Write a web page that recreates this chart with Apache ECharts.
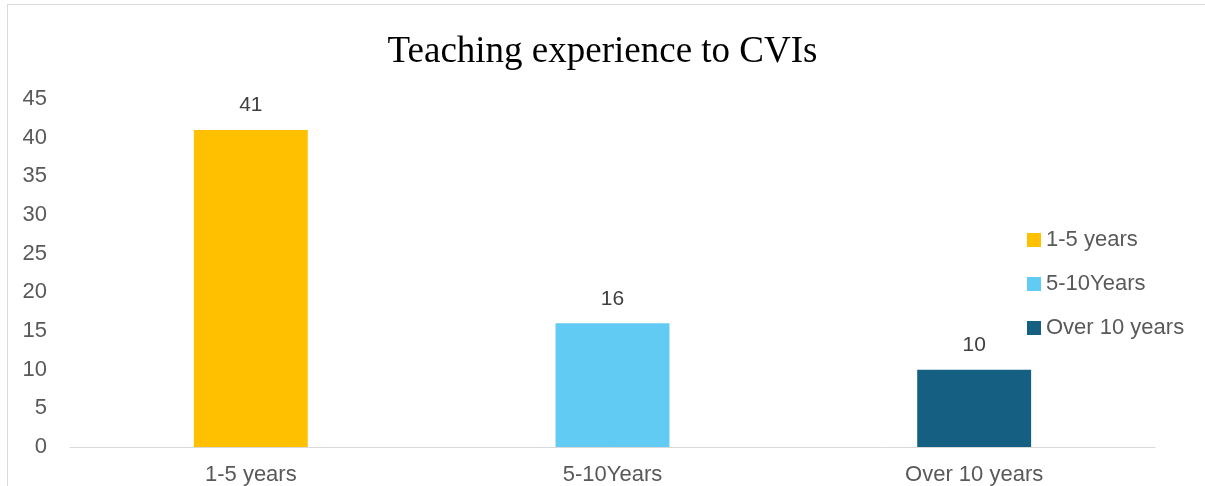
<!DOCTYPE html>
<html>
<head>
<meta charset="utf-8">
<style>
  html, body { margin: 0; padding: 0; background: #fff; }
  #chart { width: 1205px; height: 486px; }
</style>
<script src="https://cdn.jsdelivr.net/npm/echarts@6/dist/echarts.min.js"></script>
</head>
<body>
<div id="chart"></div>
<script>
// data
var categories = ['1-5 years', '5-10Years', 'Over 10 years'];
var values = [41, 16, 10];
var colors = ['#FFC000', '#61CBF3', '#156082'];
var yTicks = { min: 0, max: 45, interval: 5 };

var chart = echarts.init(document.getElementById('chart'));

// one series per category so the legend can list them
var series = categories.map(function (name, i) {
  var data = categories.map(function (c, j) { return j === i ? values[i] : '-'; });
  return {
    name: name,
    type: 'bar',
    stack: 'one',
    barWidth: '31.5%',
    data: data,
    itemStyle: { color: colors[i] },
    label: {
      show: true,
      position: 'top',
      distance: 14,
      color: '#404040',
      fontFamily: 'Liberation Sans',
      fontSize: 21
    }
  };
});

var option = {
  backgroundColor: '#fff',
  animation: false,
  title: {
    text: 'Teaching experience to CVIs',
    left: 'center',
    top: 29,
    textStyle: {
      fontFamily: 'Liberation Serif',
      fontWeight: 'normal',
      fontSize: 37,
      color: '#000'
    }
  },
  graphic: [{
    type: 'rect',
    shape: { x: 7.5, y: 4.5, width: 1300, height: 600 },
    style: { fill: 'none', stroke: '#d9d9d9', lineWidth: 1 },
    silent: true
  }],
  legend: {
    orient: 'vertical',
    left: 1022,
    top: 224,
    itemWidth: 14,
    itemHeight: 14,
    itemGap: 22,
    icon: 'rect',
    textStyle: {
      fontFamily: 'Liberation Sans',
      fontSize: 22,
      color: '#595959'
    },
    data: categories
  },
  grid: { left: 70, right: 50, top: 99, bottom: 36 },
  xAxis: {
    type: 'category',
    data: categories,
    axisLine: { lineStyle: { color: '#d9d9d9', width: 1 } },
    axisTick: { show: false },
    axisLabel: {
      margin: 17,
      color: '#595959',
      fontFamily: 'Liberation Sans',
      fontSize: 22
    }
  },
  yAxis: {
    type: 'value',
    min: yTicks.min,
    max: yTicks.max,
    interval: yTicks.interval,
    axisLine: { show: false },
    axisTick: { show: false },
    splitLine: { show: false },
    axisLabel: {
      margin: 23,
      color: '#595959',
      fontFamily: 'Liberation Sans',
      fontSize: 22
    }
  },
  series: series
};

chart.setOption(option);
</script>
</body>
</html>
